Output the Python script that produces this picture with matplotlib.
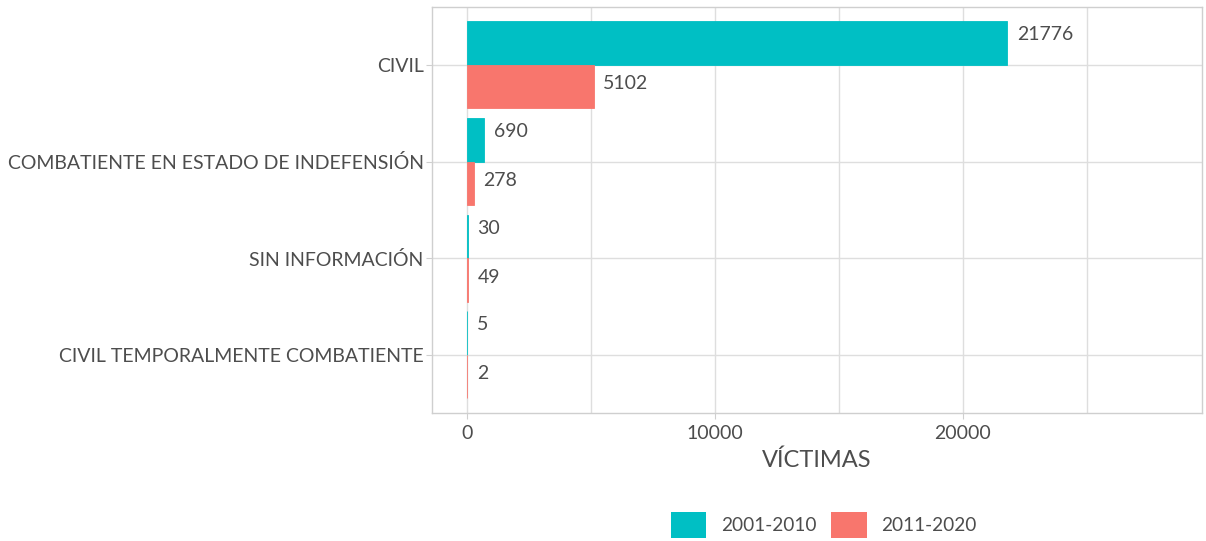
# Victims by condition, two decades, horizontal dodged bars

import numpy as np
import matplotlib.pyplot as plt
from matplotlib.patches import Patch

plt.rcParams['font.family'] = ['Lato', 'DejaVu Sans']

categorias = ["CIVIL", "COMBATIENTE EN ESTADO DE INDEFENSIÓN",
              "SIN INFORMACIÓN", "CIVIL TEMPORALMENTE COMBATIENTE"]
periodos = ["2001-2010", "2011-2020"]
victimas_2001_2010 = [21776, 690, 30, 5]
victimas_2011_2020 = [5102, 278, 49, 2]
colores = ["#00BFC4", "#F8766D"]

texto = "#4d4d4d"
rejilla = "#dedede"

fig = plt.figure(figsize=(12.06, 5.41), dpi=100)
ax = fig.add_axes([0.3582, 0.2366, 0.6385, 0.7505])

y = np.arange(len(categorias))
alto = 0.45
series = [victimas_2001_2010, victimas_2011_2020]
offsets = [-alto / 2, alto / 2]
subir = [6, 2]  # labels sit a little above bar centre

for vals, off, col, dy in zip(series, offsets, colores, subir):
    # thin edge so that the tiny bars still show as a line
    bars = ax.barh(y + off, vals, height=alto, color=col, edgecolor=col,
                   linewidth=0.6, zorder=2)
    for b, v in zip(bars, vals):
        ax.annotate(str(v), (b.get_width(), b.get_y() + b.get_height() / 2),
                    xytext=(7, dy), textcoords="offset points",
                    va="center", ha="left", fontsize=14, color=texto)

ax.set_xlim(-1411, 29637)
ax.set_ylim(len(categorias) - 0.4, -0.6)
ax.set_yticks(y)
ax.set_yticklabels(categorias)
ax.set_xticks([0, 10000, 20000])
ax.set_xticks([5000, 15000, 25000], minor=True)

ax.grid(True, which="both", color=rejilla, linewidth=1, zorder=0)
ax.set_axisbelow(True)
for s in ax.spines.values():
    s.set_color("#cfcfcf")
    s.set_linewidth(1)

ax.tick_params(axis="both", which="major", labelsize=14, labelcolor=texto,
               color="#cfcfcf", length=4, pad=2)
ax.tick_params(axis="x", which="minor", length=0)
ax.tick_params(axis="x", pad=5)

ax.set_xlabel("VÍCTIMAS", fontsize=17, color=texto, labelpad=5)

handles = [Patch(facecolor=c, edgecolor="none") for c in colores]
fig.legend(handles, periodos, loc="center", bbox_to_anchor=(0.683, 0.0296),
           ncol=2, frameon=False, fontsize=13.7, labelcolor=texto,
           handlelength=1.85, handleheight=1.65, handletextpad=0.75,
           columnspacing=0.8, borderaxespad=0)

fig.savefig("out.png", dpi=100)
